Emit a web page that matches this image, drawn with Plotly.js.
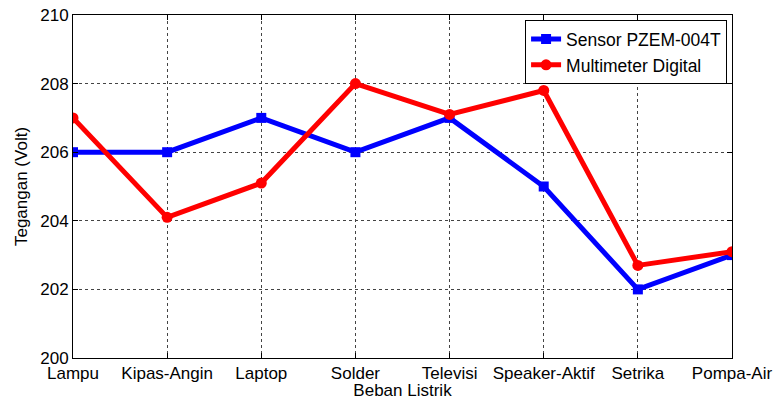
<!DOCTYPE html>
<html>
<head>
<meta charset="utf-8">
<script src="https://cdn.plot.ly/plotly-3.0.1.min.js"></script>
<style>html,body{margin:0;padding:0;background:#fff;}#chart{width:776px;height:400px;}</style>
</head>
<body>
<div id="chart"></div>
<script>
const categories = ["Lampu", "Kipas-Angin", "Laptop", "Solder", "Televisi", "Speaker-Aktif", "Setrika", "Pompa-Air"];
const sensorValues = [206, 206, 207, 206, 207, 205, 202, 203];
const multimeterValues = [207, 204.1, 205.1, 208, 207.1, 207.8, 202.7, 203.1];
const yTicks = [200, 202, 204, 206, 208, 210];

const family = "Liberation Sans, Arial, sans-serif";
const tickFont = {family: family, size: 17, color: "#000"};
const titleFont = {family: family, size: 17, color: "#000"};
const legendFont = {family: family, size: 17.5, color: "#000"};

const traces = [
  {x: categories, y: sensorValues, name: "Sensor PZEM-004T", type: "scatter", mode: "lines+markers",
   line: {color: "#0000ff", width: 5}, marker: {symbol: "square", size: 10, color: "#0000ff"}},
  {x: categories, y: multimeterValues, name: "Multimeter Digital", type: "scatter", mode: "lines+markers",
   line: {color: "#ff0000", width: 5}, marker: {symbol: "circle", size: 11, color: "#ff0000"}}
];

const layout = {
  width: 776, height: 400,
  margin: {l: 73, r: 44, t: 15, b: 42},
  paper_bgcolor: "#fff", plot_bgcolor: "#fff",
  font: tickFont,
  showlegend: true,
  legend: {x: 0.686, y: 0.985, xanchor: "left", yanchor: "top", bgcolor: "#fff",
           bordercolor: "#000", borderwidth: 1, font: legendFont, tracegroupgap: 0, itemwidth: 30},
  xaxis: {
    type: "category", range: [0, 7], tickvals: categories, ticktext: categories,
    showline: true, linecolor: "#000", linewidth: 1, mirror: "ticks",
    ticks: "inside", ticklen: 5, tickcolor: "#000",
    showgrid: true, gridcolor: "#444", griddash: "dot", gridwidth: 1,
    zeroline: false, tickfont: tickFont,
    title: {text: "Beban Listrik", font: titleFont, standoff: 2}
  },
  yaxis: {
    range: [200, 210], tickvals: yTicks, ticktext: yTicks.map(String),
    showline: true, linecolor: "#000", linewidth: 1, mirror: "ticks",
    ticks: "inside", ticklen: 5, tickcolor: "#000",
    showgrid: true, gridcolor: "#444", griddash: "dot", gridwidth: 1,
    zeroline: false, tickfont: tickFont,
    title: {text: "Tegangan (Volt)", font: titleFont, standoff: 8}
  }
};

Plotly.newPlot("chart", traces, layout, {displayModeBar: false, staticPlot: true});
</script>
</body>
</html>
